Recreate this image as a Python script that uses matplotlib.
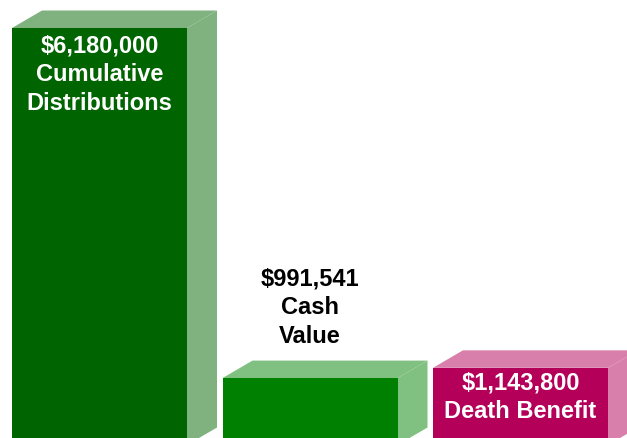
import matplotlib
matplotlib.use("Agg")
import matplotlib.pyplot as plt
from matplotlib.patches import Polygon

# Data
labels = [["Cumulative", "Distributions"], ["Cash", "Value"], ["Death Benefit"]]
values = [6180000, 991541, 1143800]
value_text = ["$6,180,000", "$991,541", "$1,143,800"]

front_colors = ["#006400", "#008000", "#B40058"]
shade_colors = ["#80B280", "#80C080", "#D880AB"]
text_colors = ["white", "black", "white"]

W, H = 627, 439
fig = plt.figure(figsize=(W / 100, H / 100), dpi=100)
ax = fig.add_axes([0, 0, 1, 1])
ax.set_axis_off()

# value units per pixel
scale = max(values) / 417.0
base_px = 446  # baseline (pixels from top)
ax.set_xlim(0, W)
ax.set_ylim((base_px - H) * scale, base_px * scale)

bar_w = 175
step = 210.5
x0 = 12
dx = 30            # depth offset, pixels
dy = 17.5 * scale  # depth offset, value units

for i, v in enumerate(values):
    left = x0 + i * step
    right = left + bar_w
    # side face
    ax.add_patch(Polygon([(right, 0), (right + dx, dy), (right + dx, v + dy), (right, v)],
                         closed=True, facecolor=shade_colors[i], edgecolor="none"))
    # top face
    ax.add_patch(Polygon([(left, v), (left + dx, v + dy), (right + dx, v + dy), (right, v)],
                         closed=True, facecolor=shade_colors[i], edgecolor="none"))
    # front face
    ax.add_patch(Polygon([(left, 0), (right, 0), (right, v), (left, v)],
                         closed=True, facecolor=front_colors[i], edgecolor="none"))

font = dict(family=["Liberation Sans", "DejaVu Sans"], fontweight="bold", fontsize=17)

# baseline offsets (pixels) of each text line relative to the bar's front top
line_offsets = [[-23, -52, -81], [94, 65, 36], [-21, -49]]

for i, v in enumerate(values):
    cx = x0 + i * step + bar_w / 2
    lines = [value_text[i]] + labels[i]
    for line, off in zip(lines, line_offsets[i]):
        ax.annotate(line, xy=(cx, v), xytext=(0, off), textcoords="offset pixels",
                    ha="center", va="baseline", color=text_colors[i], **font)

fig.savefig("out.png", dpi=100)
